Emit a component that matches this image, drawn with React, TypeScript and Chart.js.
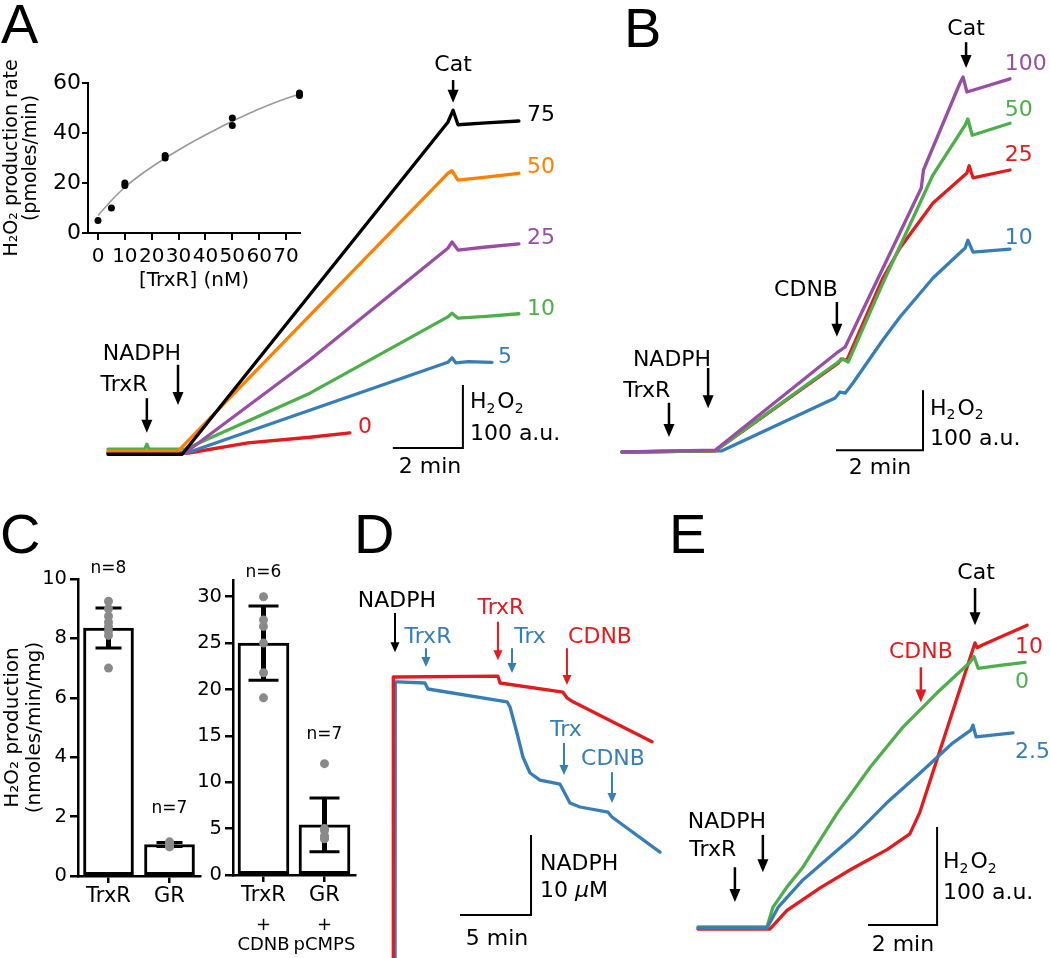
import React, { useEffect, useRef } from 'react';
import { Chart, registerables } from 'chart.js';

Chart.register(...registerables);

const FONT = '"DejaVu Sans", "Liberation Sans", sans-serif';
Chart.defaults.font.family = FONT;
Chart.defaults.color = '#000';

const RED = '#e41a1c';
const BLUE = '#377eb8';
const GREEN = '#4daf4a';
const PURPLE = '#984ea3';
const ORANGE = '#ff7f00';
const BLACK = '#000000';
const DOT_GRAY = '#8a8a8a';

// ---------- Panel A inset: H2O2 production rate vs [TrxR] ----------
const INSET_TRXR_NM = [0, 5, 10, 10, 25, 25, 50, 50, 75, 75];
const INSET_RATE = [5, 10, 20, 19, 31, 30, 46, 43, 56, 55];
const INSET_FIT_NM = [0, 5, 10, 15, 20, 25, 30, 35, 40, 45, 50, 55, 60, 65, 70, 75];
const INSET_FIT_RATE = [7, 13, 18.3, 22.6, 26.4, 29.9, 33.2, 36.3, 39.2, 42, 44.7, 47.2, 49.6, 51.8, 53.8, 55.6];
const INSET_X_TICKS = [0, 10, 20, 30, 40, 50, 60, 70];
const INSET_Y_TICKS = [0, 10, 20, 30, 40, 50, 60];

// ---------- Panel A traces: [time (min), H2O2 (a.u.)] ----------
const A_TRXR_75 = [[0, -2], [2.12, -2], [9.71, 525], [9.86, 544], [10.0, 521], [10.8, 524], [11.74, 527]];
const A_TRXR_50 = [[0, 3], [2.0, 3], [9.71, 444], [9.83, 448], [10.0, 433], [10.8, 438], [11.74, 444]];
const A_TRXR_25 = [[0, 0], [2.2, 0], [5.77, 148], [9.71, 325], [9.83, 335], [10.0, 322], [10.8, 327], [11.74, 332]];
const A_TRXR_10 = [[0, 6], [1.05, 6], [1.11, 14], [1.17, 6], [2.2, 6], [5.77, 95], [9.71, 216], [9.83, 222], [10.0, 214], [10.8, 217], [11.74, 221]];
const A_TRXR_5 = [[0, 0], [2.25, 0], [9.71, 144], [9.83, 151], [9.94, 143], [10.3, 145], [10.97, 144]];
const A_TRXR_0 = [[0, 0], [2.3, 0], [4.0, 16], [5.77, 25], [6.91, 32]];

// ---------- Panel B traces ----------
const B_CDNB_100 = [[0, 0], [2.14, 3], [4.97, 167], [5.13, 175], [6.88, 440], [6.93, 470], [7.77, 615], [7.84, 625], [7.93, 600], [8.92, 622]];
const B_CDNB_50 = [[0, 0], [2.14, 2], [4.97, 150], [5.08, 155], [5.2, 150], [6.0, 282], [7.15, 462], [7.89, 545], [7.95, 555], [8.05, 528], [8.92, 548]];
const B_CDNB_25 = [[0, 0], [2.14, 2], [4.97, 148], [5.04, 155], [5.17, 153], [6.0, 290], [6.39, 340], [7.15, 415], [7.93, 465], [7.98, 477], [8.07, 457], [8.92, 470]];
const B_CDNB_10 = [[0, 0], [2.3, 2], [4.9, 90], [5.01, 100], [5.13, 98], [5.31, 115], [6.0, 187], [6.39, 225], [7.15, 290], [7.77, 332], [7.89, 340], [7.95, 353], [8.07, 333], [8.92, 338]];

// ---------- Panel C bars ----------
const C1_LABELS = ['TrxR', 'GR'];
const C1_MEAN = [8.35, 1.06];
const C1_SD = [0.67, 0.07];
const C1_DOTS_TRXR = [9.25, 9.0, 8.75, 8.55, 8.4, 8.25, 8.1, 7.0];
const C1_DOTS_GR = [1.15, 1.1, 1.08, 1.05, 1.03, 1.0, 0.98];
const C1_N = ['n=8', 'n=7'];
const C1_Y_TICKS = [0, 2, 4, 6, 8, 10];

const C2_LABELS = ['TrxR', 'GR'];
const C2_SUB = ['CDNB', 'pCMPS'];
const C2_MEAN = [25.0, 5.4];
const C2_SD = [4.0, 2.9];
const C2_DOTS_TRXR_CDNB = [30, 27.5, 26.8, 25, 21.8, 19.1];
const C2_DOTS_GR_PCMPS = [12, 5, 4.8, 4.2, 4, 3.9, 4];
const C2_N = ['n=6', 'n=7'];
const C2_Y_TICKS = [0, 5, 10, 15, 20, 25, 30];

// ---------- Panel D traces: [time (min), NADPH (uM)] ----------
const D_RED = [[0, 0], [0.02, 50], [0.14, 50], [7.39, 50.1], [7.54, 49.25], [11.97, 48.1], [12.25, 47.4], [12.68, 46.9], [18.24, 41.9]];
const D_BLUE = [[0.14, 0], [0.16, 49.4], [0.35, 49.4], [2.25, 49.25], [2.46, 48.5], [8.03, 46.9], [8.24, 46.25], [8.73, 43], [9.15, 40], [9.65, 38], [10.35, 37.1], [11.76, 36.6], [11.97, 35.9], [12.46, 34.25], [13.17, 33.75], [15.14, 33.1], [15.42, 32.5], [18.8, 28.1]];

// ---------- Panel E traces ----------
const E_CDNB_0 = [[0, 1], [2.0, 1], [2.17, 21], [2.58, 42], [3.04, 62], [4.03, 117], [4.99, 164], [5.94, 205], [6.93, 240], [7.88, 271], [8.0, 277], [8.12, 265], [8.75, 268], [9.48, 271]];
const E_CDNB_2_5 = [[0, 0], [2.0, 0], [2.32, 21], [3.04, 49], [4.49, 93], [5.48, 128], [6.43, 158], [7.39, 189], [7.91, 202], [7.97, 207], [8.06, 195], [9.13, 199]];
const E_CDNB_10 = [[0, -1], [2.09, -1], [2.58, 18], [3.54, 41], [4.49, 61], [5.48, 80], [6.14, 96], [6.43, 118], [8.03, 291], [8.09, 286], [8.26, 289], [9.54, 309]];

// ---------- annotation plugin ----------
type Seg = { t: string; sub?: boolean; it?: boolean; dx?: number };
type Item =
  | { k: 't'; x: number; y: number; text: string | Seg[]; color?: string; align?: 'left' | 'center'; size?: number }
  | { k: 'a'; x: number; y1: number; y2: number; color?: string; small?: boolean }
  | { k: 'p'; pts: number[][]; w?: number };
type ErrSpec = { index: number; mean: number[]; sd: number[]; cap: number; stem: number; capW: number };

const H2O2: Seg[] = [{ t: 'H' }, { t: '2', sub: true, dx: 2 }, { t: 'O' }, { t: '2', sub: true }];

function drawText(ctx: CanvasRenderingContext2D, px: number, py: number, it: any) {
  const size = it.size ?? 22;
  const segs: Seg[] = typeof it.text === 'string' ? [{ t: it.text }] : it.text;
  const fonts = segs.map((s) => `${s.it ? 'italic ' : ''}${s.sub ? Math.round(size * 0.62) : size}px ${FONT}`);
  const widths = segs.map((s, i) => {
    ctx.font = fonts[i];
    return ctx.measureText(s.t).width + (s.dx ?? 0);
  });
  const total = widths.reduce((a, b) => a + b, 0);
  let x = it.align === 'center' ? px - total / 2 : px;
  const base = py + 0.365 * size;
  ctx.fillStyle = it.color ?? '#000';
  ctx.textAlign = 'left';
  ctx.textBaseline = 'alphabetic';
  segs.forEach((s, i) => {
    ctx.font = fonts[i];
    ctx.fillText(s.t, x, base + (s.sub ? 0.2 * size : 0));
    x += widths[i];
  });
}

function annot(items: Item[], err?: ErrSpec) {
  return {
    id: 'annot',
    afterDatasetDraw(chart: any, args: any) {
      if (!err || args.index !== err.index) return;
      const { ctx } = chart;
      const xs = chart.scales.x;
      const ys = chart.scales.y;
      ctx.save();
      ctx.strokeStyle = '#000';
      err.mean.forEach((m, i) => {
        const px = xs.getPixelForValue(i);
        const top = ys.getPixelForValue(m + err.sd[i]);
        const bot = ys.getPixelForValue(m - err.sd[i]);
        ctx.lineWidth = err.stem;
        ctx.beginPath();
        ctx.moveTo(px, top);
        ctx.lineTo(px, bot);
        ctx.stroke();
        ctx.lineWidth = err.capW;
        ctx.beginPath();
        ctx.moveTo(px - err.cap, top);
        ctx.lineTo(px + err.cap, top);
        ctx.moveTo(px - err.cap, bot);
        ctx.lineTo(px + err.cap, bot);
        ctx.stroke();
      });
      ctx.restore();
    },
    afterDraw(chart: any) {
      const { ctx } = chart;
      const xs = chart.scales.x;
      const ys = chart.scales.y;
      const X = (v: number) => xs.getPixelForValue(v);
      const Y = (v: number) => ys.getPixelForValue(v);
      ctx.save();
      for (const it of items) {
        if (it.k === 't') {
          drawText(ctx, X(it.x), Y(it.y), it);
        } else if (it.k === 'a') {
          const c = it.color ?? '#000';
          const hl = it.small ? 10 : 13;
          const hw = it.small ? 4.5 : 5.5;
          const x = X(it.x);
          const y1 = Y(it.y1);
          const y2 = Y(it.y2);
          ctx.strokeStyle = c;
          ctx.fillStyle = c;
          ctx.lineWidth = it.small ? 2 : 2.5;
          ctx.beginPath();
          ctx.moveTo(x, y1);
          ctx.lineTo(x, y2 - hl + 1);
          ctx.stroke();
          ctx.beginPath();
          ctx.moveTo(x, y2);
          ctx.lineTo(x - hw, y2 - hl);
          ctx.lineTo(x + hw, y2 - hl);
          ctx.closePath();
          ctx.fill();
        } else if (it.k === 'p') {
          ctx.strokeStyle = '#000';
          ctx.lineWidth = it.w ?? 2;
          ctx.lineJoin = 'miter';
          ctx.beginPath();
          it.pts.forEach(([a, b], i) => (i === 0 ? ctx.moveTo(X(a), Y(b)) : ctx.lineTo(X(a), Y(b))));
          ctx.stroke();
        }
      }
      ctx.restore();
    },
  };
}

// ---------- geometry helpers ----------
type Geo = { rect: [number, number, number, number]; ox: number; oy: number; sx: number; sy: number };
function boundsOf(g: Geo) {
  const [l, t, w, h] = g.rect;
  return {
    xmin: (l - g.ox) / g.sx,
    xmax: (l + w - g.ox) / g.sx,
    ymin: (g.oy - (t + h)) / g.sy,
    ymax: (g.oy - t) / g.sy,
  };
}

const baseOpts = {
  responsive: false,
  animation: false as const,
  events: [] as any[],
  plugins: { legend: { display: false }, tooltip: { enabled: false } },
};

function traceConfig(series: { data: number[][]; color: string }[], g: Geo, items: Item[]) {
  const b = boundsOf(g);
  return {
    type: 'scatter',
    data: {
      datasets: series.map((s) => ({
        data: s.data.map(([x, y]) => ({ x, y })),
        showLine: true,
        borderColor: s.color,
        backgroundColor: s.color,
        borderWidth: 3.3,
        pointRadius: 0,
        borderJoinStyle: 'round',
        borderCapStyle: 'round',
        tension: 0,
        fill: false,
      })),
    },
    options: {
      ...baseOpts,
      layout: { padding: 0 },
      scales: {
        x: { type: 'linear', display: false, min: b.xmin, max: b.xmax },
        y: { type: 'linear', display: false, min: b.ymin, max: b.ymax },
      },
    },
    plugins: [annot(items)],
  };
}

const axisGrid = (tickLength: number, lw: number) => ({
  display: true,
  drawOnChartArea: false,
  drawTicks: true,
  offset: false,
  color: '#000',
  lineWidth: lw,
  tickLength,
});
const axisBorder = (lw: number) => ({ display: true, color: '#000', width: lw });

// ---------- panel geometries ----------
const GEO_A: Geo = { rect: [60, 40, 520, 440], ox: 108, oy: 453, sx: 35, sy: 0.63 };
const GEO_B: Geo = { rect: [600, 0, 450, 480], ox: 622, oy: 452, sx: 43.5, sy: 0.6 };
const GEO_D: Geo = { rect: [340, 560, 360, 398], ox: 393, oy: 1077, sx: 14.2, sy: 8 };
const GEO_E: Geo = { rect: [680, 540, 370, 418], ox: 698, oy: 928, sx: 34.5, sy: 0.98 };

const RECT_INSET: [number, number, number, number] = [0, 40, 320, 260];
const RECT_C1: [number, number, number, number] = [0, 540, 215, 418];
const RECT_C2: [number, number, number, number] = [185, 540, 185, 418];

function makeA() {
  return traceConfig(
    [
      { data: A_TRXR_75, color: BLACK },
      { data: A_TRXR_50, color: ORANGE },
      { data: A_TRXR_25, color: PURPLE },
      { data: A_TRXR_10, color: GREEN },
      { data: A_TRXR_5, color: BLUE },
      { data: A_TRXR_0, color: RED },
    ],
    GEO_A,
    [
      { k: 't', x: 9.86, y: 619, text: 'Cat', align: 'center' },
      { k: 'a', x: 9.86, y1: 592, y2: 556 },
      { k: 't', x: 0.97, y: 160, text: 'NADPH', align: 'center' },
      { k: 'a', x: 2.0, y1: 140, y2: 76 },
      { k: 't', x: 0.46, y: 111, text: 'TrxR', align: 'center' },
      { k: 'a', x: 1.11, y1: 87, y2: 32 },
      { k: 't', x: 11.97, y: 540, text: '75', color: BLACK },
      { k: 't', x: 11.97, y: 457, text: '50', color: ORANGE },
      { k: 't', x: 11.97, y: 344, text: '25', color: PURPLE },
      { k: 't', x: 11.97, y: 232, text: '10', color: GREEN },
      { k: 't', x: 11.14, y: 156, text: '5', color: BLUE },
      { k: 't', x: 7.14, y: 44, text: '0', color: RED },
      { k: 'p', pts: [[8.14, 8], [10.14, 8], [10.14, 108]] },
      { k: 't', x: 9.2, y: -19, text: '2 min', align: 'center' },
      { k: 't', x: 10.34, y: 84, text: H2O2 },
      { k: 't', x: 10.34, y: 33, text: '100 a.u.' },
    ]
  );
}

function makeB() {
  return traceConfig(
    [
      { data: B_CDNB_100, color: PURPLE },
      { data: B_CDNB_50, color: GREEN },
      { data: B_CDNB_25, color: RED },
      { data: B_CDNB_10, color: BLUE },
    ],
    GEO_B,
    [
      { k: 't', x: 7.91, y: 708, text: 'Cat', align: 'center' },
      { k: 'a', x: 7.91, y1: 683, y2: 640 },
      { k: 't', x: 4.23, y: 273, text: 'CDNB', align: 'center' },
      { k: 'a', x: 4.94, y1: 250, y2: 192 },
      { k: 't', x: 1.15, y: 157, text: 'NADPH', align: 'center' },
      { k: 'a', x: 1.98, y1: 140, y2: 73 },
      { k: 't', x: 0.57, y: 105, text: 'TrxR', align: 'center' },
      { k: 'a', x: 1.08, y1: 82, y2: 25 },
      { k: 't', x: 8.8, y: 650, text: '100', color: PURPLE },
      { k: 't', x: 8.8, y: 573, text: '50', color: GREEN },
      { k: 't', x: 8.8, y: 498, text: '25', color: RED },
      { k: 't', x: 8.8, y: 360, text: '10', color: BLUE },
      { k: 'p', pts: [[4.92, 3], [6.92, 3], [6.92, 103]] },
      { k: 't', x: 5.93, y: -23, text: '2 min', align: 'center' },
      { k: 't', x: 7.08, y: 75, text: H2O2 },
      { k: 't', x: 7.08, y: 25, text: '100 a.u.' },
    ]
  );
}

function makeD() {
  return traceConfig(
    [
      { data: D_RED, color: RED },
      { data: D_BLUE, color: BLUE },
    ],
    GEO_D,
    [
      { k: 't', x: 0.28, y: 59.75, text: 'NADPH', align: 'center' },
      { k: 'a', x: 0.14, y1: 58, y2: 53.1, small: true },
      { k: 't', x: 2.46, y: 55.25, text: 'TrxR', color: BLUE, align: 'center' },
      { k: 'a', x: 2.32, y1: 53.6, y2: 51.25, color: BLUE, small: true },
      { k: 't', x: 7.6, y: 58.9, text: 'TrxR', color: RED, align: 'center' },
      { k: 'a', x: 7.39, y1: 56.9, y2: 52.1, color: RED, small: true },
      { k: 't', x: 9.65, y: 55.25, text: 'Trx', color: BLUE, align: 'center' },
      { k: 'a', x: 8.38, y1: 53.6, y2: 50.5, color: BLUE, small: true },
      { k: 't', x: 14.58, y: 55.25, text: 'CDNB', color: RED, align: 'center' },
      { k: 'a', x: 12.25, y1: 53.6, y2: 49, color: RED, small: true },
      { k: 't', x: 12.18, y: 43.6, text: 'Trx', color: BLUE, align: 'center' },
      { k: 'a', x: 12.04, y1: 41.75, y2: 37.75, color: BLUE, small: true },
      { k: 't', x: 15.49, y: 40, text: 'CDNB', color: BLUE, align: 'center' },
      { k: 'a', x: 15.42, y1: 38.1, y2: 34.25, color: BLUE, small: true },
      { k: 'p', pts: [[4.72, 20.25], [9.72, 20.25], [9.72, 30.25]] },
      { k: 't', x: 7.32, y: 17.5, text: '5 min', align: 'center' },
      { k: 't', x: 10.35, y: 26.9, text: 'NADPH' },
      { k: 't', x: 10.35, y: 23.5, text: [{ t: '10 ' }, { t: 'μ', it: true }, { t: 'M' }] },
    ]
  );
}

function makeE() {
  return traceConfig(
    [
      { data: E_CDNB_2_5, color: BLUE },
      { data: E_CDNB_0, color: GREEN },
      { data: E_CDNB_10, color: RED },
    ],
    GEO_E,
    [
      { k: 't', x: 8.06, y: 364, text: 'Cat', align: 'center' },
      { k: 'a', x: 8.03, y1: 347, y2: 309 },
      { k: 't', x: 6.46, y: 284, text: 'CDNB', color: RED, align: 'center' },
      { k: 'a', x: 6.46, y1: 266, y2: 230, color: RED },
      { k: 't', x: 0.84, y: 110, text: 'NADPH', align: 'center' },
      { k: 'a', x: 1.88, y1: 95, y2: 57 },
      { k: 't', x: 0.43, y: 82, text: 'TrxR', align: 'center' },
      { k: 'a', x: 1.07, y1: 62, y2: 26.5 },
      { k: 't', x: 9.19, y: 289, text: '10', color: RED },
      { k: 't', x: 9.19, y: 253, text: '0', color: GREEN },
      { k: 't', x: 9.19, y: 182, text: '2.5', color: BLUE },
      { k: 'p', pts: [[4.93, 3], [6.93, 3], [6.93, 103]] },
      { k: 't', x: 5.94, y: -15.3, text: '2 min', align: 'center' },
      { k: 't', x: 7.1, y: 69, text: H2O2 },
      { k: 't', x: 7.1, y: 38, text: '100 a.u.' },
    ]
  );
}

function makeInset() {
  return {
    type: 'scatter',
    data: {
      datasets: [
        {
          data: INSET_TRXR_NM.map((x, i) => ({ x, y: INSET_RATE[i] })),
          pointRadius: 3.5,
          backgroundColor: '#000',
          borderWidth: 0,
          clip: false,
        },
        {
          data: INSET_FIT_NM.map((x, i) => ({ x, y: INSET_FIT_RATE[i] })),
          showLine: true,
          borderColor: '#9a9a9a',
          borderWidth: 1.6,
          pointRadius: 0,
          tension: 0.3,
        },
      ],
    },
    options: {
      ...baseOpts,
      layout: { padding: { top: 43, right: 20, left: 0, bottom: 0 } },
      scales: {
        x: {
          type: 'linear',
          min: -3.72,
          max: 75.2,
          afterBuildTicks: (s: any) => {
            s.ticks = INSET_X_TICKS.map((v) => ({ value: v }));
          },
          grid: axisGrid(7, 2),
          border: axisBorder(2),
          ticks: { font: { size: 20 }, color: '#000', padding: 5, autoSkip: false, maxRotation: 0, minRotation: 0 },
          title: { display: true, text: '[TrxR] (nM)', color: '#000', font: { size: 20 }, padding: { top: 0, bottom: 7 } },
          afterFit: (s: any) => {
            s.height = 67;
          },
        },
        y: {
          type: 'linear',
          min: 0,
          max: 60,
          afterBuildTicks: (s: any) => {
            s.ticks = INSET_Y_TICKS.map((v) => ({ value: v }));
          },
          grid: axisGrid(6, 2),
          border: axisBorder(2),
          ticks: { font: { size: 22 }, color: '#000', padding: 1 },
          title: {
            display: true,
            text: ['H₂O₂ production rate', '(pmoles/min)'],
            color: '#000',
            font: { size: 19, lineHeight: 1 },
            padding: { top: 2.5, bottom: 0 },
          },
          afterFit: (s: any) => {
            s.width = 88;
          },
        },
      },
    },
    plugins: [],
  };
}

function barConfig(opts: {
  labels: string[];
  mean: number[];
  sd: number[];
  dots: number[][];
  ymax: number;
  yTicks: number[];
  padTop: number;
  yWidth: number;
  xHeight: number;
  title?: string[];
  items: Item[];
  cap: number;
  barW: number;
}) {
  const dotData: { x: string; y: number }[] = [];
  opts.dots.forEach((arr, i) => arr.forEach((v) => dotData.push({ x: opts.labels[i], y: v })));
  return {
    type: 'bar',
    data: {
      labels: opts.labels,
      datasets: [
        { type: 'scatter', data: dotData, pointRadius: 4.5, backgroundColor: DOT_GRAY, borderWidth: 0, clip: false },
        {
          type: 'bar',
          data: opts.mean,
          backgroundColor: '#ffffff',
          borderColor: '#000',
          borderWidth: 3,
          borderSkipped: false,
          barThickness: opts.barW,
        },
      ],
    },
    options: {
      ...baseOpts,
      layout: { padding: { top: opts.padTop, right: 15, left: 0, bottom: 0 } },
      scales: {
        x: {
          type: 'category',
          offset: true,
          grid: axisGrid(7, 2.5),
          border: axisBorder(2.5),
          ticks: { font: { size: 21 }, color: '#000', padding: 1, autoSkip: false, maxRotation: 0, minRotation: 0 },
          afterFit: (s: any) => {
            s.height = opts.xHeight;
          },
        },
        y: {
          type: 'linear',
          min: 0,
          max: opts.ymax,
          afterBuildTicks: (s: any) => {
            s.ticks = opts.yTicks.map((v) => ({ value: v }));
          },
          grid: axisGrid(8, 2.5),
          border: axisBorder(2.5),
          ticks: { font: { size: 19.5 }, color: '#000', padding: 3 },
          title: opts.title
            ? { display: true, text: opts.title, color: '#000', font: { size: 20, lineHeight: 1.1 }, padding: { top: 2, bottom: 0 } }
            : { display: false },
          afterFit: (s: any) => {
            s.width = opts.yWidth;
          },
        },
      },
    },
    plugins: [annot(opts.items, { index: 1, mean: opts.mean, sd: opts.sd, cap: opts.cap, stem: 5, capW: 3 })],
  };
}

function makeC1() {
  return barConfig({
    labels: C1_LABELS,
    mean: C1_MEAN,
    sd: C1_SD,
    dots: [C1_DOTS_TRXR, C1_DOTS_GR],
    ymax: 10,
    yTicks: C1_Y_TICKS,
    padTop: 39,
    yWidth: 78,
    xHeight: 82,
    title: ['H₂O₂ production', '(nmoles/min/mg)'],
    cap: 13,
    barW: 50,
    items: [
      { k: 't', x: 0, y: 10.4, text: C1_N[0], size: 17, align: 'center' },
      { k: 't', x: 1, y: 2.32, text: C1_N[1], size: 17, align: 'center' },
    ],
  });
}

function makeC2() {
  return barConfig({
    labels: C2_LABELS,
    mean: C2_MEAN,
    sd: C2_SD,
    dots: [C2_DOTS_TRXR_CDNB, C2_DOTS_GR_PCMPS],
    ymax: 31.8,
    yTicks: C2_Y_TICKS,
    padTop: 40,
    yWidth: 48,
    xHeight: 83,
    cap: 15,
    barW: 51,
    items: [
      { k: 't', x: 0, y: 32.8, text: C2_N[0], size: 17, align: 'center' },
      { k: 't', x: 1, y: 15.3, text: C2_N[1], size: 17, align: 'center' },
      { k: 't', x: 0, y: -5.18, text: '+', size: 18, align: 'center' },
      { k: 't', x: 1, y: -5.18, text: '+', size: 18, align: 'center' },
      { k: 't', x: 0, y: -7.34, text: C2_SUB[0], size: 18, align: 'center' },
      { k: 't', x: 1, y: -7.34, text: C2_SUB[1], size: 18, align: 'center' },
    ],
  });
}

function ChartBox({ rect, make }: { rect: [number, number, number, number]; make: () => any }) {
  const ref = useRef<HTMLCanvasElement>(null);
  useEffect(() => {
    const chart = new Chart(ref.current as HTMLCanvasElement, make());
    return () => chart.destroy();
  }, []);
  const [l, t, w, h] = rect;
  return (
    <canvas
      ref={ref}
      width={w}
      height={h}
      style={{ position: 'absolute', left: l, top: t, width: w, height: h }}
    />
  );
}

const letterStyle = (left: number, top: number): React.CSSProperties => ({
  position: 'absolute',
  left,
  top,
  fontFamily: '"Liberation Sans", Arial, sans-serif',
  fontSize: 56,
  lineHeight: '56px',
  color: '#000',
});

export default function App() {
  return (
    <div
      style={{
        position: 'fixed',
        left: 0,
        top: 0,
        width: 1050,
        height: 958,
        background: '#fff',
        overflow: 'hidden',
      }}
    >
      <ChartBox rect={GEO_A.rect} make={makeA} />
      <ChartBox rect={RECT_INSET} make={makeInset} />
      <ChartBox rect={GEO_B.rect} make={makeB} />
      <ChartBox rect={GEO_D.rect} make={makeD} />
      <ChartBox rect={GEO_E.rect} make={makeE} />
      <ChartBox rect={RECT_C1} make={makeC1} />
      <ChartBox rect={RECT_C2} make={makeC2} />
      <div style={letterStyle(1, -4)}>A</div>
      <div style={letterStyle(624, 0)}>B</div>
      <div style={letterStyle(0, 506)}>C</div>
      <div style={letterStyle(354, 506)}>D</div>
      <div style={letterStyle(669, 506)}>E</div>
    </div>
  );
}
